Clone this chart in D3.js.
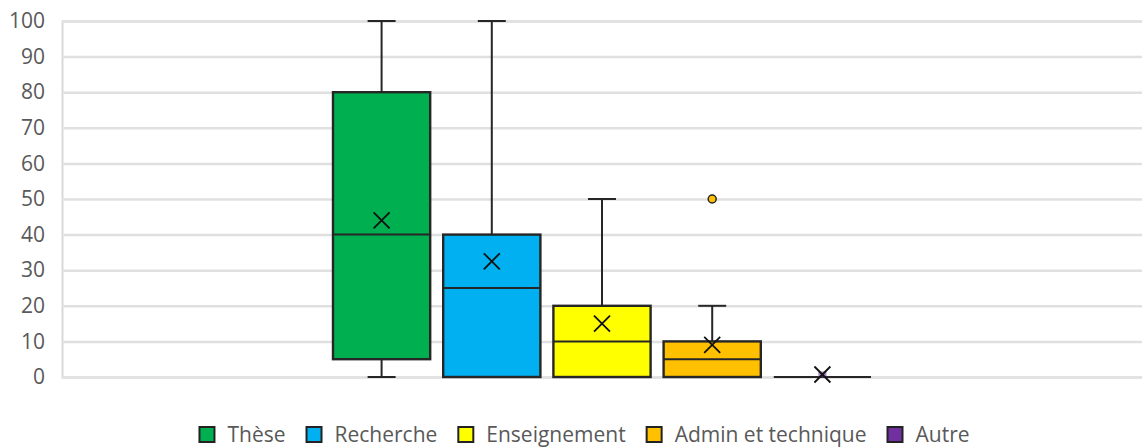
<!DOCTYPE html>
<html><head><meta charset="utf-8">
<script src="https://cdn.jsdelivr.net/npm/d3@7"></script>
<style>body{margin:0;background:#fff}svg{display:block}</style>
</head><body><svg id="c" width="1144" height="448"></svg>
<script>
const series = ["Thèse","Recherche","Enseignement","Admin et technique","Autre"];
const colors = ["#00B050","#00B0F0","#FFFF00","#FFC000","#7030A0"];
const whiskerMin = [0,0,0,0,0];
const q1 = [5,0,0,0,0];
const median = [40,25,10,5,0];
const q3 = [80,40,20,10,0];
const whiskerMax = [100,100,50,20,0];
const mean = [44,32.5,15,9,0.7];
const outliers = [[],[],[],[50],[]];
const yTicks = [0,10,20,30,40,50,60,70,80,90,100];

const svg = d3.select("#c");
const font = "'Open Sans', 'Liberation Sans', sans-serif";
const pLeft = 62, pRight = 1142, pTop = 21, pBottom = 377;
const y = d3.scaleLinear().domain([0,100]).range([pBottom, pTop]);
const x0 = d3.scaleBand().domain([""]).range([pLeft, pRight]).paddingOuter(0.48);
const x1 = d3.scaleBand().domain(series).range([0, x0.bandwidth()]).paddingInner(0.118).paddingOuter(0.059);

const yAxis = d3.axisLeft(y).tickValues(yTicks).tickSize(-(pRight-pLeft)).tickPadding(17).tickFormat(d3.format("d"));
const ga = svg.append("g").attr("transform",`translate(${pLeft},0)`).call(yAxis);
ga.select(".domain").attr("stroke","#d9d9d9").attr("stroke-width",2);
ga.selectAll(".tick line").attr("stroke","#e0e0e0").attr("stroke-width",2.5);
ga.selectAll(".tick text").attr("fill","#595959").style("font-family",font).style("font-size","21px");

const g = svg.append("g").attr("transform",`translate(${x0("")},0)`);
series.forEach((s,i)=>{
  const bx = x1(s), bw = x1.bandwidth(), cx = bx + bw/2, cap = 28;
  const gs = g.append("g");
  const st = "#262626";
  if (whiskerMax[i] > q3[i]) {
    gs.append("line").attr("x1",cx).attr("x2",cx).attr("y1",y(q3[i])).attr("y2",y(whiskerMax[i])).attr("stroke",st).attr("stroke-width",2);
    gs.append("line").attr("x1",cx-cap/2).attr("x2",cx+cap/2).attr("y1",y(whiskerMax[i])).attr("y2",y(whiskerMax[i])).attr("stroke",st).attr("stroke-width",2);
  }
  if (whiskerMin[i] < q1[i]) {
    gs.append("line").attr("x1",cx).attr("x2",cx).attr("y1",y(q1[i])).attr("y2",y(whiskerMin[i])).attr("stroke",st).attr("stroke-width",2);
    gs.append("line").attr("x1",cx-cap/2).attr("x2",cx+cap/2).attr("y1",y(whiskerMin[i])).attr("y2",y(whiskerMin[i])).attr("stroke",st).attr("stroke-width",2);
  }
  gs.append("rect").attr("x",bx).attr("width",bw).attr("y",y(q3[i])).attr("height",Math.max(0,y(q1[i])-y(q3[i])))
    .attr("fill",colors[i]).attr("stroke",st).attr("stroke-width",2.4);
  gs.append("line").attr("x1",bx).attr("x2",bx+bw).attr("y1",y(median[i])).attr("y2",y(median[i])).attr("stroke",st).attr("stroke-width",2);
  const my = y(mean[i]), m = 8;
  if (q3[i] === q1[i]) {
    gs.append("rect").attr("x",cx-4).attr("y",my-3).attr("width",8).attr("height",6).attr("fill",colors[i]).attr("opacity",0.6);
  }
  gs.append("path").attr("d",`M${cx-m},${my-m}L${cx+m},${my+m}M${cx-m},${my+m}L${cx+m},${my-m}`)
    .attr("stroke","#111").attr("stroke-width",1.8).attr("fill","none");
  outliers[i].forEach(o=>{
    gs.append("circle").attr("cx",cx).attr("cy",y(o)).attr("r",4).attr("fill",colors[i]).attr("stroke",st).attr("stroke-width",1.5);
  });
});

// legend, laid out from measured text widths and centred
const lg = svg.append("g");
const sym = 17, symGap = 12, itemGap = 20;
const items = series.map((s,i)=>{
  const it = lg.append("g");
  it.append("rect").attr("x",1).attr("y",427).attr("width",sym-2).attr("height",sym-2)
    .attr("fill",colors[i]).attr("stroke","#222").attr("stroke-width",2);
  const t = it.append("text").attr("x",sym+symGap).attr("y",442).text(s).attr("fill","#595959")
    .style("font-family",font).style("font-size","21px");
  return {it, w: sym+symGap+t.node().getComputedTextLength()};
});
const total = d3.sum(items, d=>d.w) + itemGap*(items.length-1);
let cx0 = 584 - total/2;
items.forEach(d=>{ d.it.attr("transform",`translate(${cx0},0)`); cx0 += d.w + itemGap; });
</script></body></html>
